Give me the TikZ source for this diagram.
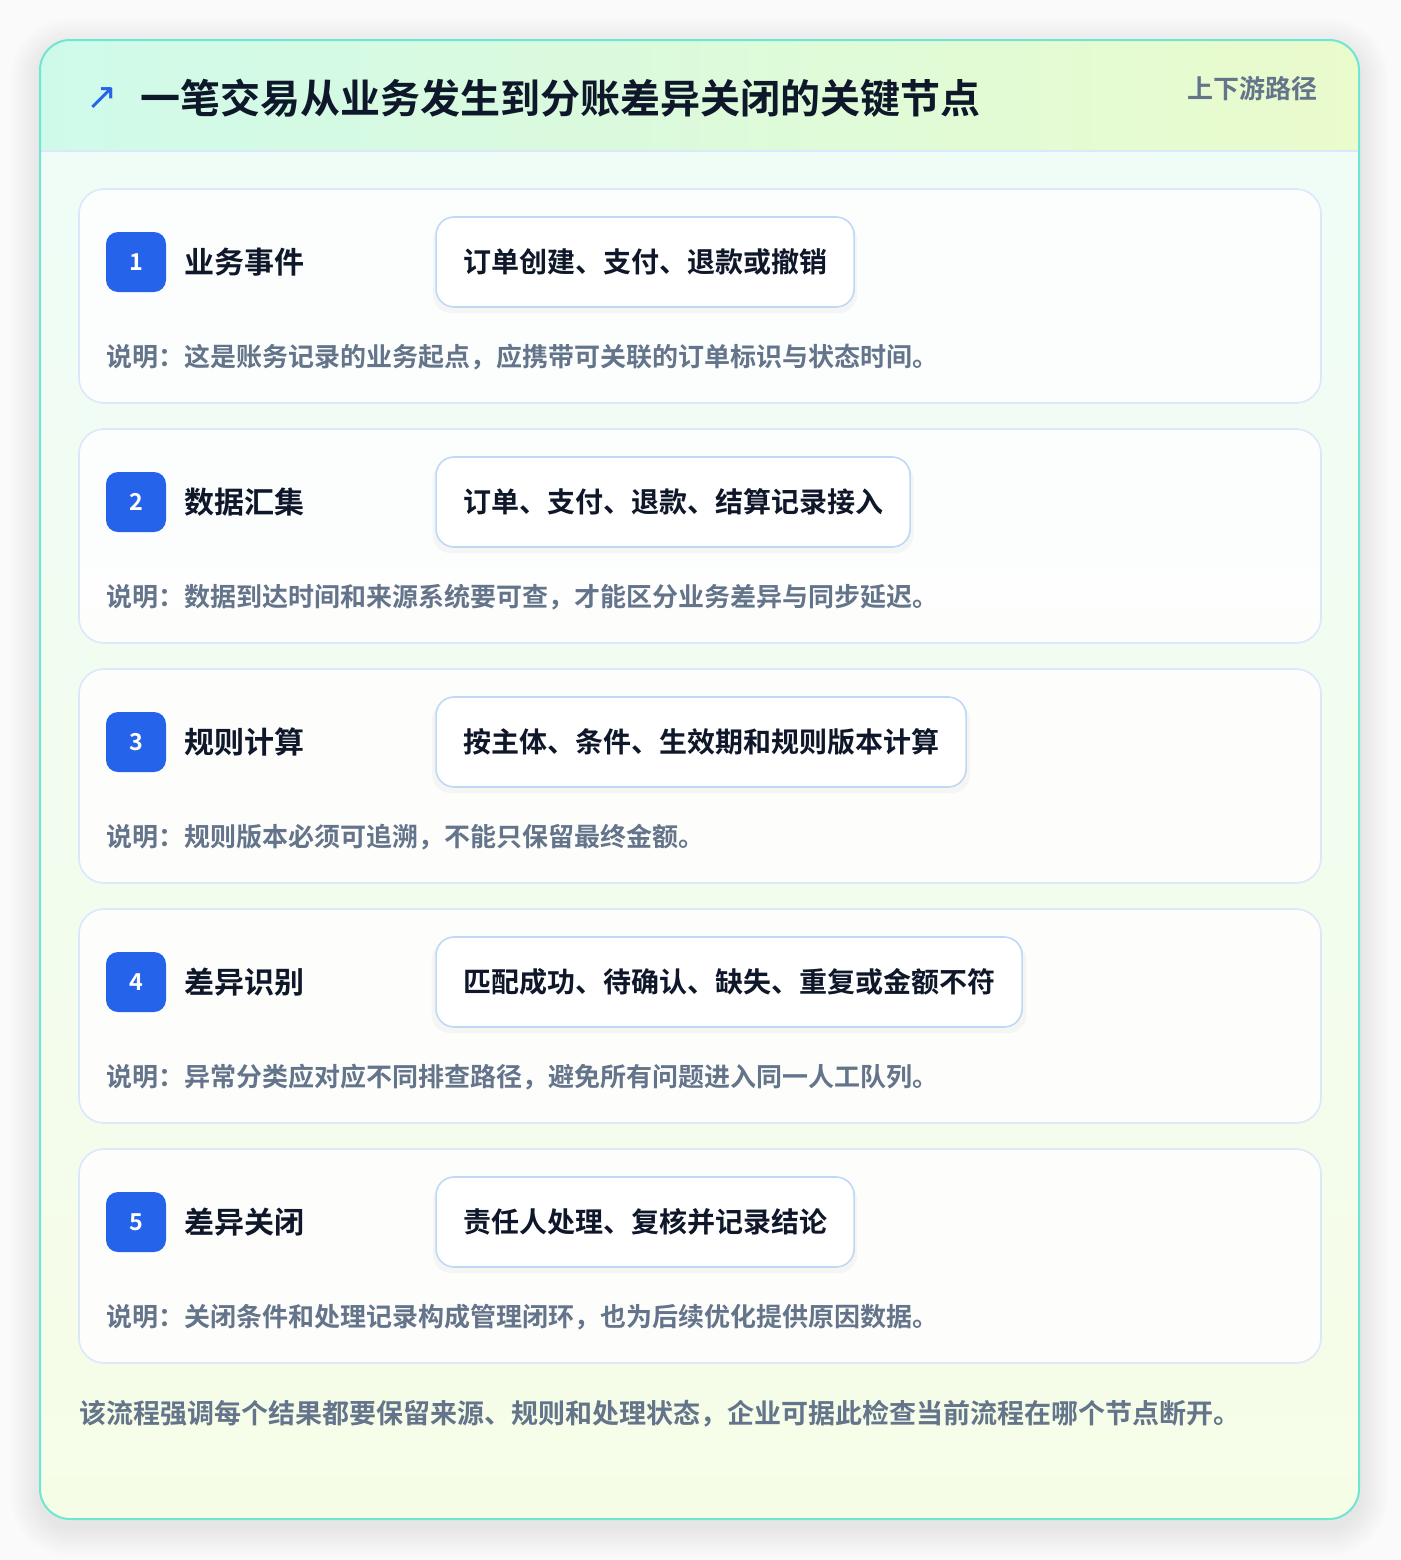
\documentclass[tikz,border=0pt]{standalone}
\usepackage{fontspec}
\setmainfont{Noto Sans CJK SC}[BoldFont={Noto Sans CJK SC Bold}]
\newfontfamily\symfont{DejaVu Sans}
\usetikzlibrary{positioning,shadows}

\definecolor{pagebg}{HTML}{FAFAFA}
\definecolor{frameline}{HTML}{6EE6D4}
\definecolor{headl}{HTML}{CFFAEA}
\definecolor{headr}{HTML}{EAFBCC}
\definecolor{bodytop}{HTML}{EFFDF8}
\definecolor{bodybot}{HTML}{F6FDE7}
\definecolor{cardline}{HTML}{DBE7FB}
\definecolor{pillline}{HTML}{BFD8F6}
\definecolor{badgeblue}{HTML}{2563EB}
\definecolor{ink}{HTML}{0F172A}
\definecolor{muted}{HTML}{64748B}

\begin{document}
\begin{tikzpicture}[x=0.75pt,y=-0.75pt,
  card/.style={draw=cardline,line width=1.2pt,fill=white,fill opacity=0.85,draw opacity=1,text opacity=1,
    rounded corners=18.75pt,minimum width=931.5pt,minimum height=160.5pt,anchor=north west,
    inner sep=0pt,outer sep=0pt},
  badge/.style={fill=badgeblue,rounded corners=9pt,minimum size=45pt,inner sep=0pt,text=white,
    font=\bfseries\fontsize{17.5pt}{19pt}\selectfont},
  stage/.style={inner sep=0pt,text=ink,font=\bfseries\fontsize{22.5pt}{26pt}\selectfont},
  pill/.style={draw=pillline,line width=1.2pt,fill=white,rounded corners=13.5pt,minimum height=67.5pt,
    inner xsep=20.25pt,inner ysep=0pt,text=ink,font=\bfseries\fontsize{21pt}{25pt}\selectfont,
    general shadow={fill=black,opacity=0.03,shadow yshift=-4pt,shadow scale=1.015}},
  desc/.style={anchor=west,inner sep=0pt,text=muted,font=\bfseries\fontsize{19.5pt}{23pt}\selectfont}]

\useasboundingbox (0,0) rectangle (1400,1560);
\fill[pagebg] (0,0) rectangle (1400,1560);

% soft shadow under the frame
\foreach \r in {2,5,...,29}
  \fill[black,opacity=0.009,rounded corners=22.5pt+0.75*\r pt]
    (40-\r,40-\r+8) rectangle (1359+\r,1519+\r+8);

% frame
\fill[white,rounded corners=22.5pt] (40,40) rectangle (1359,1519);
\begin{scope}
\clip[rounded corners=22.5pt] (40,40) rectangle (1359,1519);
\shade[top color=bodytop,bottom color=bodybot] (40,40) rectangle (1359,1519);
\shade[left color=headl,right color=headr] (40,40) rectangle (1359,151);
\draw[cardline,line width=1.2pt] (40,151) -- (1359,151);
\end{scope}
\draw[frameline,line width=1.5pt,rounded corners=22.5pt] (40,40) rectangle (1359,1519);

% header
\node[inner sep=0pt,text=badgeblue,font=\symfont\fontsize{28pt}{30pt}\selectfont] (icon) at (102,99) {↗};
\node[anchor=west,inner sep=0pt,text=ink,font=\bfseries\fontsize{30pt}{34pt}\selectfont] (title) at (140,98)
  {一笔交易从业务发生到分账差异关闭的关键节点};
\node[anchor=east,inner sep=0pt,text=muted,font=\bfseries\fontsize{19.5pt}{22pt}\selectfont] (route) at (1318,89)
  {上下游路径};

% step 1
\node[card] (c1) at (79,189) {};
\node[badge] (b1) at (136,262) {1};
\node[stage,right=13.5pt of b1] (t1) {业务事件};
\node[pill,right=201.75pt of b1] (p1) {订单创建、支付、退款或撤销};
\node[desc] (d1) at (106,357) {说明：这是账务记录的业务起点，应携带可关联的订单标识与状态时间。};

% step 2
\node[card,below=19.5pt of c1.south west,anchor=north west] (c2) {};
\node[badge] (b2) at (136,502) {2};
\node[stage,right=13.5pt of b2] (t2) {数据汇集};
\node[pill,right=201.75pt of b2] (p2) {订单、支付、退款、结算记录接入};
\node[desc] (d2) at (106,597) {说明：数据到达时间和来源系统要可查，才能区分业务差异与同步延迟。};

% step 3
\node[card,below=19.5pt of c2.south west,anchor=north west] (c3) {};
\node[badge] (b3) at (136,742) {3};
\node[stage,right=13.5pt of b3] (t3) {规则计算};
\node[pill,right=201.75pt of b3] (p3) {按主体、条件、生效期和规则版本计算};
\node[desc] (d3) at (106,837) {说明：规则版本必须可追溯，不能只保留最终金额。};

% step 4
\node[card,below=19.5pt of c3.south west,anchor=north west] (c4) {};
\node[badge] (b4) at (136,982) {4};
\node[stage,right=13.5pt of b4] (t4) {差异识别};
\node[pill,right=201.75pt of b4] (p4) {匹配成功、待确认、缺失、重复或金额不符};
\node[desc] (d4) at (106,1077) {说明：异常分类应对应不同排查路径，避免所有问题进入同一人工队列。};

% step 5
\node[card,below=19.5pt of c4.south west,anchor=north west] (c5) {};
\node[badge] (b5) at (136,1222) {5};
\node[stage,right=13.5pt of b5] (t5) {差异关闭};
\node[pill,right=201.75pt of b5] (p5) {责任人处理、复核并记录结论};
\node[desc] (d5) at (106,1317) {说明：关闭条件和处理记录构成管理闭环，也为后续优化提供原因数据。};

% footer
\node[anchor=west,inner sep=0pt,text=muted,font=\bfseries\fontsize{20.25pt}{24pt}\selectfont] (note) at (79,1414)
  {该流程强调每个结果都要保留来源、规则和处理状态，企业可据此检查当前流程在哪个节点断开。};

\end{tikzpicture}
\end{document}
